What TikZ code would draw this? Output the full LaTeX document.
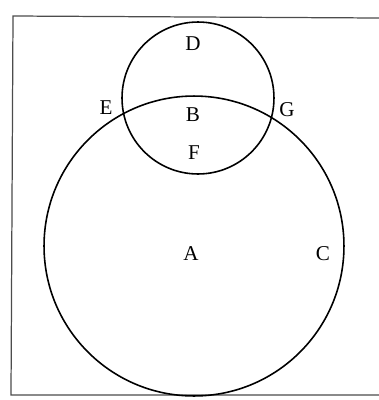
\documentclass[tikz,border=0pt]{standalone}
\usepackage{fontspec}
\setmainfont{Liberation Serif}
\usetikzlibrary{positioning}

\begin{document}
\begin{tikzpicture}[
    x=0.02cm, y=-0.02cm,
    set/.style={circle, draw, line width=0.9pt, inner sep=0pt},
    lbl/.style={font=\large, inner sep=1pt},
    frame/.style={draw=black!70, line width=0.7pt}
]
\useasboundingbox (0,0) rectangle (379,400);
% universe frame (cut at the right)
\draw[frame] (379,18) -- (13,16) -- (11,395) -- (379,395);

% the two sets
\node[set, minimum size=6cm] (big) at (194,246) {};
\node[set, minimum size=3.04cm] (small) at (198,98) {};

% labels
\node[lbl] (D) at (193,44) {D};
\node[lbl] (E) at (106,108) {E};
\node[lbl] (B) at (193,115) {B};
\node[lbl] (G) at (287,110) {G};
\node[lbl] (F) at (194,153) {F};
\node[lbl] (A) at (191,254) {A};
\node[lbl] (C) at (323,254) {C};
\end{tikzpicture}
\end{document}
